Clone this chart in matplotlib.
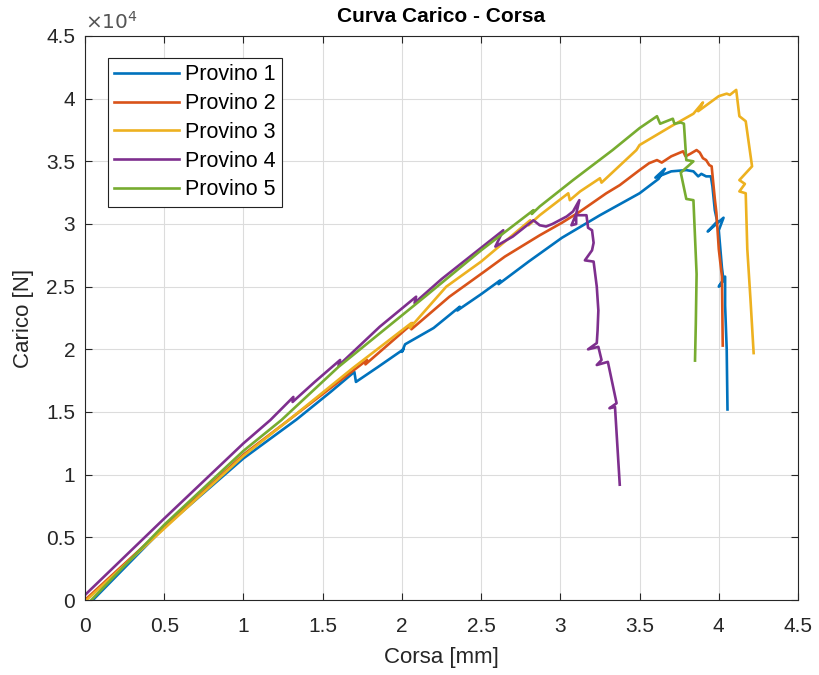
import matplotlib
matplotlib.use("Agg")
import matplotlib.pyplot as plt
from matplotlib.ticker import FuncFormatter, MultipleLocator

# ---- data (corsa in mm, carico in N) --------------------------------------- #
x1 = [0.05, 0.50, 1.00, 1.335, 1.55, 1.70, 1.71, 1.85, 2.01, 2.00, 2.02, 2.20,
      2.365, 2.35, 2.50, 2.62, 2.61, 2.80, 3.01, 3.25, 3.50, 3.62, 3.66, 3.60,
      3.70, 3.795, 3.84, 3.87, 3.89, 3.92, 3.95, 3.96, 3.975, 3.99, 3.93, 4.03,
      4.00, 4.02, 4.03, 4.00, 4.04, 4.04, 4.05, 4.055]
y1 = [0, 5800, 11300, 14400, 16600, 18200, 17400, 18600, 20000, 19800, 20400, 21700,
      23400, 23100, 24400, 25500, 25200, 27000, 28900, 30700, 32450, 33600, 34400, 33700,
      34200, 34300, 34200, 33800, 34000, 33800, 33800, 33000, 31100, 30200, 29400, 30500,
      29500, 26500, 25500, 25000, 25800, 23500, 20000, 15200]

x2 = [0.00, 0.50, 1.00, 1.29, 1.60, 1.78, 1.77, 2.07, 2.06, 2.30, 2.52, 2.65,
      2.87, 3.01, 3.125, 3.29, 3.375, 3.50, 3.56, 3.61, 3.64, 3.70, 3.775, 3.79,
      3.82, 3.86, 3.88, 3.90, 3.92, 3.94, 3.955, 3.975, 3.985, 4.00, 4.02, 4.025]
y2 = [0, 5800, 11600, 14400, 17400, 19150, 18800, 22100, 21600, 24200, 26200, 27400,
      29100, 30100, 31000, 32450, 33100, 34300, 34850, 35100, 34900, 35400, 35800, 35400,
      35600, 35900, 35700, 35250, 35100, 34700, 34600, 32000, 30900, 28000, 25800, 20300]

x3 = [0.01, 0.50, 1.00, 1.29, 1.69, 2.06, 2.05, 2.28, 2.50, 2.81, 2.80, 2.87,
      3.05, 3.06, 3.125, 3.25, 3.26, 3.48, 3.50, 3.70, 3.84, 3.90, 3.87, 4.00,
      4.05, 4.07, 4.11, 4.13, 4.17, 4.21, 4.13, 4.165, 4.13, 4.17, 4.18, 4.20, 4.22]
y3 = [0, 5700, 11500, 14400, 18500, 22100, 21700, 25000, 27000, 30300, 29900, 30700,
      32450, 31900, 32600, 33650, 33300, 35900, 36300, 37800, 38800, 39700, 39000, 40200,
      40400, 40300, 40700, 38600, 38200, 34600, 33500, 33200, 32600, 32450, 28000, 24000, 19700]

x4 = [0.00, 0.50, 1.00, 1.17, 1.315, 1.31, 1.45, 1.61, 1.60, 1.86, 2.09, 2.08,
      2.25, 2.43, 2.64, 2.59, 2.70, 2.83, 2.87, 2.91, 2.95, 3.04, 3.08, 3.12,
      3.10, 3.07, 3.10, 3.10, 3.165, 3.175, 3.20, 3.21, 3.20, 3.155, 3.21, 3.23,
      3.24, 3.235, 3.23, 3.175, 3.24, 3.26, 3.23, 3.30, 3.355, 3.31, 3.345, 3.375]
y4 = [400, 6500, 12500, 14360, 16200, 15800, 17400, 19150, 18700, 21800, 24200, 23700,
      25600, 27400, 29500, 28200, 29000, 30300, 29900, 29800, 30000, 30600, 31000, 31900,
      30800, 29900, 30000, 30700, 30700, 29700, 29500, 28500, 27900, 27100, 27000, 25000,
      23100, 21500, 20500, 20000, 20200, 19150, 18750, 19000, 15700, 15300, 15400, 9200]

x5 = [0.04, 0.50, 1.00, 1.24, 1.60, 2.155, 2.50, 2.83, 2.82, 2.87, 3.08, 3.33,
      3.50, 3.61, 3.63, 3.67, 3.71, 3.72, 3.76, 3.78, 3.795, 3.84, 3.76, 3.795,
      3.84, 3.86, 3.855, 3.85]
y5 = [0, 6000, 11900, 14360, 18600, 24300, 27900, 31100, 30800, 31400, 33500, 35900,
      37650, 38600, 38000, 38200, 38400, 38000, 38100, 38000, 35100, 35000, 34100, 32000,
      31900, 26000, 22000, 19100]

LABELS = ["Provino 1", "Provino 2", "Provino 3", "Provino 4", "Provino 5"]
COLORS = ["#0072BD", "#D95319", "#EDB120", "#7E2F8E", "#77AC30"]

plt.rcParams.update({"font.family": ["Liberation Sans", "DejaVu Sans"]})
INK = "#262626"

fig = plt.figure(figsize=(8.2, 6.75), dpi=100)
ax = fig.add_axes([85 / 820, 1 - 600 / 675, 713 / 820, 564 / 675])

for xs, ys, lab, col in zip((x1, x2, x3, x4, x5), (y1, y2, y3, y4, y5), LABELS, COLORS):
    ax.plot(xs, ys, color=col, lw=1.9, label=lab)

ax.set_xlim(0, 4.5)
ax.set_ylim(0, 45000)
ax.xaxis.set_major_locator(MultipleLocator(0.5))
ax.yaxis.set_major_locator(MultipleLocator(5000))
ax.xaxis.set_major_formatter(FuncFormatter(lambda v, p: f"{v:g}"))
ax.yaxis.set_major_formatter(FuncFormatter(lambda v, p: f"{v / 1e4:g}"))
ax.tick_params(direction="in", length=5, width=0.8, top=True, right=True,
               labelsize=15, colors=INK)
ax.tick_params(axis="x", pad=12)
ax.tick_params(axis="y", pad=7)
for s in ax.spines.values():
    s.set_color(INK)
    s.set_linewidth(0.8)
ax.grid(True, color="#dcdcdc", lw=0.8)
ax.set_axisbelow(True)

ax.text(0.0, 1.005, r"$\times10^{4}$", transform=ax.transAxes, fontsize=14.5,
        color="#555555", ha="left", va="bottom")
ax.set_title("Curva Carico - Corsa", fontsize=15, fontweight="bold", pad=10)
ax.set_xlabel("Corsa [mm]", fontsize=16, color=INK, labelpad=8)
ax.set_ylabel("Carico [N]", fontsize=16, color=INK, labelpad=9)

leg = ax.legend(loc="upper left", bbox_to_anchor=(0.032, 0.961), borderaxespad=0,
                fontsize=15.5, fancybox=False, framealpha=1, edgecolor="#222222",
                handlelength=3.0, handletextpad=0.3, labelspacing=0.36, borderpad=0.3)
leg.get_frame().set_linewidth(0.8)

fig.savefig("out.png", dpi=100)
